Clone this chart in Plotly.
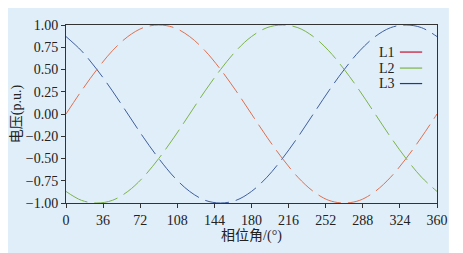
import plotly.graph_objects as go

angles = [0, 15, 30, 45, 60, 75, 90, 105, 120, 135, 150, 165, 180, 195, 210, 225, 240, 255, 270, 285, 300, 315, 330, 345, 360]
L1 = [0.00, 0.26, 0.50, 0.71, 0.87, 0.97, 1.00, 0.97, 0.87, 0.71, 0.50, 0.26, 0.00, -0.26, -0.50, -0.71, -0.87, -0.97, -1.00, -0.97, -0.87, -0.71, -0.50, -0.26, 0.00]
L2 = [-0.87, -0.97, -1.00, -0.97, -0.87, -0.71, -0.50, -0.26, 0.00, 0.26, 0.50, 0.71, 0.87, 0.97, 1.00, 0.97, 0.87, 0.71, 0.50, 0.26, 0.00, -0.26, -0.50, -0.71, -0.87]
L3 = [0.87, 0.71, 0.50, 0.26, 0.00, -0.26, -0.50, -0.71, -0.87, -0.97, -1.00, -0.97, -0.87, -0.71, -0.50, -0.26, 0.00, 0.26, 0.50, 0.71, 0.87, 0.97, 1.00, 0.97, 0.87]

series_names = ["L1", "L2", "L3"]
colors = ["#E0704F", "#7DB347", "#3F5F9E"]
legend_line_colors = ["#C8102E", "#7DB347", "#1F3C88"]

x_ticks = [0, 36, 72, 108, 144, 180, 216, 252, 288, 324, 360]
y_tickvals = [1.0, 0.75, 0.5, 0.25, 0.0, -0.25, -0.5, -0.75, -1.0]
y_ticktext = ["1.00", "0.75", "0.50", "0.25", "0.00", "\u22120.20", "\u22120.50", "\u22120.75", "\u22121.00"]

serif = "'Liberation Serif', 'Times New Roman', 'Noto Sans CJK SC', serif"
bg = "#DFEEF9"

fig = go.Figure()
for name, vals, c in zip(series_names, [L1, L2, L3], colors):
    fig.add_trace(go.Scatter(
        x=angles, y=vals, mode="lines", name=name,
        line=dict(color=c, width=1, dash="24px,7px", shape="spline", smoothing=1.0),
        showlegend=False,
    ))

# background panel
fig.add_shape(type="rect", xref="paper", yref="paper",
              x0=-0.3, x1=1.032, y0=-0.4, y1=1.3,
              fillcolor=bg, line=dict(width=0), layer="below")

# custom legend (text then line sample)
leg_y = [0.848, 0.758, 0.671]
for name, c, yy in zip(series_names, legend_line_colors, leg_y):
    fig.add_annotation(xref="paper", yref="paper", x=0.893, y=yy,
                       text=name, showarrow=False, xanchor="right", yanchor="middle",
                       font=dict(family=serif, size=14, color="#222"))
    fig.add_shape(type="line", xref="paper", yref="paper",
                  x0=0.900, x1=0.960, y0=yy, y1=yy,
                  line=dict(color=c, width=1.2))

fig.update_layout(
    width=455, height=245,
    margin=dict(l=58, r=26, t=17, b=50),
    paper_bgcolor="white",
    plot_bgcolor=bg,
    font=dict(family=serif, size=14, color="#222"),
    xaxis=dict(
        range=[0, 360], tickvals=x_ticks, ticks="outside", ticklen=4, tickwidth=1,
        tickcolor="#333", showline=True, linecolor="#333", linewidth=1, mirror=True,
        showgrid=False, zeroline=False, automargin=False,
        title=dict(text="相位角/(°)", font=dict(family=serif, size=14, color="#222"), standoff=0),
        tickfont=dict(family=serif, size=14, color="#222"),
    ),
    yaxis=dict(
        range=[-1, 1], tickvals=y_tickvals, ticktext=y_ticktext, ticks="outside",
        ticklen=4, tickwidth=1, tickcolor="#333", showline=True, linecolor="#333",
        linewidth=1, mirror=True, showgrid=False, zeroline=False, automargin=False,
        title=dict(text="电压(p.u.)", font=dict(family=serif, size=14, color="#222"), standoff=0),
        tickfont=dict(family=serif, size=14, color="#222"),
    ),
)

fig.write_html("out.html")
